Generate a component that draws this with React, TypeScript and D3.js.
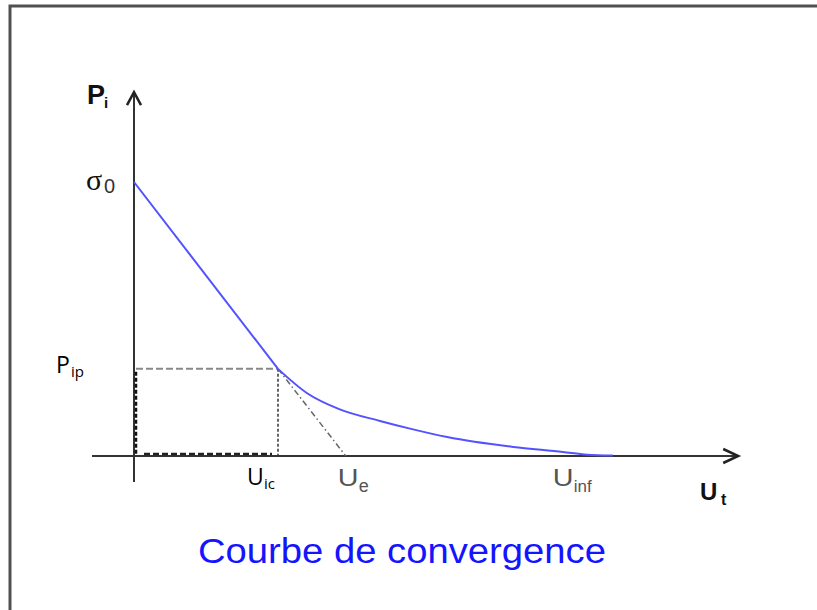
import React from 'react'
import * as d3 from 'd3'

// key points of the convergence curve (U in x units, P in % of sigma0)
const sigma0 = 100
const uIc = 24.0
const pIp = 31.8
const uE = 35.3
const uInf = 79.8

// plastic branch
const uPlastic = [24.0, 28.8, 34.3, 41.0, 46.0, 52.2, 63.2, 71.5, 75.5, 79.8]
const pPlastic = [31.8, 23.0, 17.0, 12.8, 10.0, 6.9, 3.3, 1.5, 0.5, 0.2]

const title = 'Courbe de convergence'

const W = 817
const H = 610

export default function App() {
  const x = d3.scaleLinear().domain([0, 100]).range([134, 734])
  const y = d3.scaleLinear().domain([0, 100]).range([456, 182])

  const line = d3.line<[number, number]>().x(d => x(d[0])).y(d => y(d[1]))
  const curve = d3
    .line<[number, number]>()
    .x(d => x(d[0]))
    .y(d => y(d[1]))
    .curve(d3.curveMonotoneX)

  const plastic: [number, number][] = uPlastic.map((u, i) => [u, pPlastic[i]])

  const x0 = x(0)
  const y0 = y(0)
  const xTip = x(100.7)
  const yTip = y(132.8)

  const stretch = (cx: number) => `translate(${cx},0) scale(1.25,1) translate(${-cx},0)`

  return (
    <svg width={W} height={H} style={{ position: 'absolute', left: 0, top: 0 }}>
      <rect x={0} y={0} width={W} height={H} fill="#fff" />
      {/* frame */}
      <path d={`M10,${H + 5} V6 H${W + 5}`} fill="none" stroke="#505050" strokeWidth={3} />

      {/* axes */}
      <line x1={x(-7)} x2={xTip} y1={y0} y2={y0} stroke="#333" strokeWidth={2} />
      <line x1={x0} x2={x0} y1={y(-9.5)} y2={yTip} stroke="#333" strokeWidth={2} />
      <path d={`M${xTip - 15},${y0 - 7} L${xTip},${y0} L${xTip - 15},${y0 + 7}`} fill="none" stroke="#222" strokeWidth={2.5} />
      <path d={`M${x0 - 7},${yTip + 13} L${x0},${yTip} L${x0 + 7},${yTip + 13}`} fill="none" stroke="#222" strokeWidth={2.5} />

      {/* construction lines */}
      <line x1={x0 + 2} x2={x(uIc)} y1={y(pIp)} y2={y(pIp)} stroke="#888" strokeWidth={2} strokeDasharray="7,3" />
      <line x1={x(uIc)} x2={x(uIc)} y1={y(pIp)} y2={y0} stroke="#333" strokeWidth={1.5} strokeDasharray="3,2" />
      <line x1={x0 + 2} x2={x0 + 2} y1={y(pIp) + 3} y2={y0 - 2} stroke="#111" strokeWidth={2.5} strokeDasharray="4,2" />
      <line x1={x0 + 10} x2={x(uIc) - 6} y1={y0 - 2} y2={y0 - 2} stroke="#222" strokeWidth={2.5} strokeDasharray="6,3" />
      <path
        d={line([[uIc, pIp], [uE, 0]]) ?? ''}
        fill="none"
        stroke="#666"
        strokeWidth={1.5}
        strokeDasharray="6,3,1.5,3"
      />

      {/* curve */}
      <path d={line([[0, sigma0], [uIc, pIp]]) ?? ''} fill="none" stroke="#5252ff" strokeWidth={2} />
      <path d={curve(plastic) ?? ''} fill="none" stroke="#5252ff" strokeWidth={2} />

      {/* labels */}
      <g fontFamily="Liberation Sans, Arial, sans-serif" fill="#111">
        <text x={87} y={104} fontSize={27} fontWeight="bold">P</text>
        <text x={104} y={108} fontSize={15} fontWeight="bold">i</text>
        <text x={86} y={190} fontSize={30} fontFamily="Liberation Serif, serif">σ</text>
        <text x={104} y={193} fontSize={20} fill="#333">0</text>
        <text x={56} y={373} fontSize={23} fontFamily="Open Sans, sans-serif" fill="#000">P</text>
        <text x={71} y={377} fontSize={15} fontFamily="Open Sans, sans-serif" fill="#000">ip</text>
        <text x={x(uIc) - 31} y={485} fontSize={23} fontFamily="Open Sans, sans-serif" fill="#000">U</text>
        <text x={x(uIc) - 14} y={489} fontSize={15} fontFamily="Open Sans, sans-serif" fill="#000">ic</text>
        <g fill="#555">
          <text x={x(uE) - 8} y={486} fontSize={23} transform={stretch(x(uE) - 8)}>U</text>
          <text x={x(uE) + 13} y={492} fontSize={18}>e</text>
          <text x={x(uInf) - 60} y={486} fontSize={23} transform={stretch(x(uInf) - 60)}>U</text>
          <text x={x(uInf) - 39} y={492} fontSize={17}>inf</text>
        </g>
        <text x={700} y={500} fontSize={24} fontWeight="bold">U</text>
        <text x={721} y={505} fontSize={16} fontWeight="bold">t</text>
        <text x={198} y={563} fontSize={35} fill="#1414ff" textLength={408} lengthAdjust="spacingAndGlyphs">
          {title}
        </text>
      </g>
    </svg>
  )
}
